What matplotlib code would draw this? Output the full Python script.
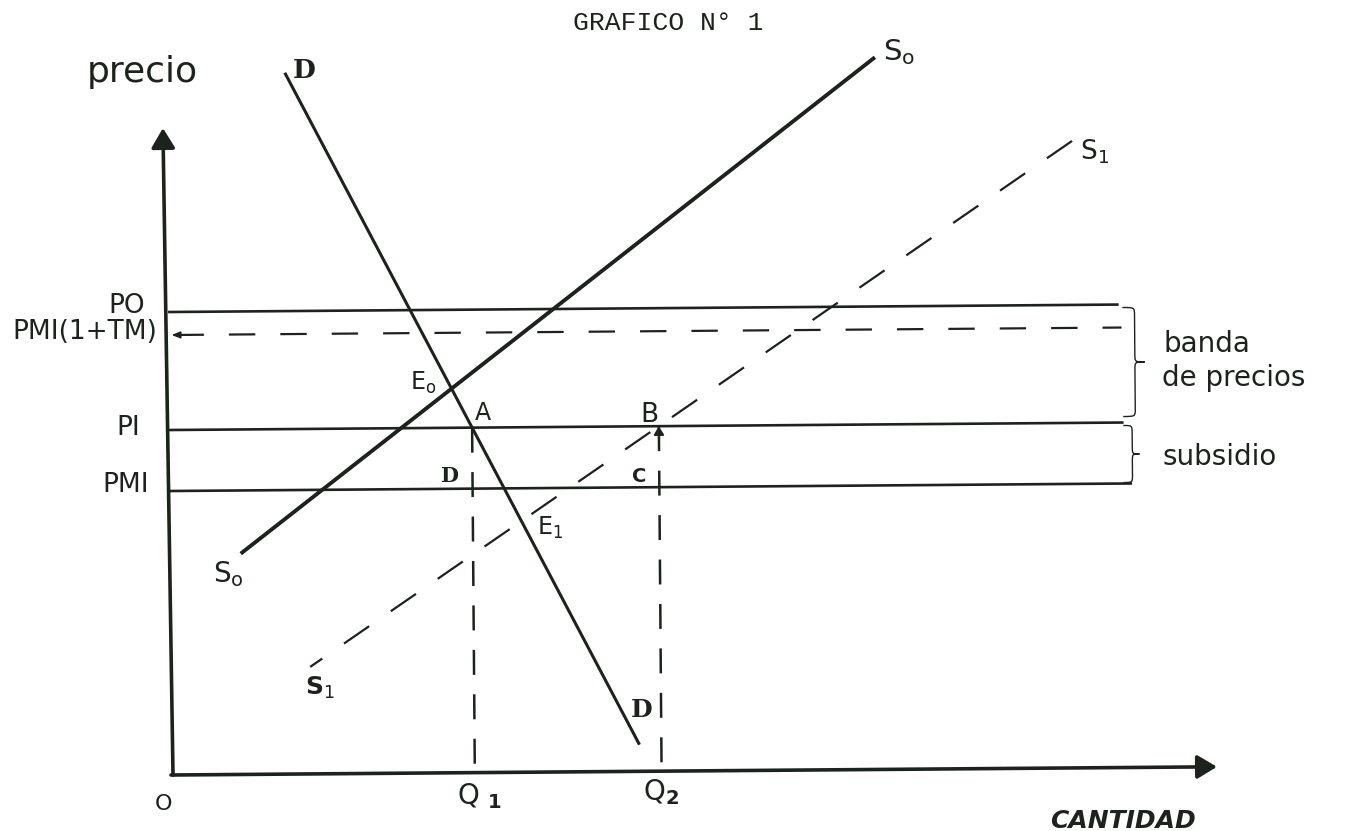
import numpy as np
import matplotlib.pyplot as plt
from matplotlib.path import Path
from matplotlib.patches import PathPatch
from matplotlib.transforms import Affine2D

plt.rcParams['font.family'] = 'DejaVu Sans'
plt.rcParams['mathtext.fontset'] = 'dejavusans'
plt.rcParams['lines.scale_dashes'] = False

TINTA = '#1c231c'

# niveles de precio (unidades del grafico, origen en O)
niveles = ['PO', 'PMI(1+TM)', 'PI', 'PMI']
precios = [463, 440, 345, 284]
fin_niveles = [948, 952, 952, 960]

# rectas: extremos en (cantidad, precio)
demanda_q = [118, 466]
demanda_p = [700, 28]
oferta0_q = [71, 706]
oferta0_p = [222, 711]
oferta1_q = [138, 904]
oferta1_p = [107, 627]

# largo de los ejes
eje_q = 1044
eje_p = 647


def cruce(qs, ps, p):
    # cantidad en la que la recta llega al precio p
    return qs[0] + (p - ps[0]) * (qs[1] - qs[0]) / (ps[1] - ps[0])


def llave(ax, q, p_abajo, p_arriba, ancho, tr):
    s = q + ancho * 0.55
    punta = q + ancho
    m = (p_abajo + p_arriba) / 2
    r = 8
    verts = [(q, p_arriba), (s, p_arriba), (s, p_arriba), (s, p_arriba - r),
             (s, m + r), (s, m), (s, m), (punta, m),
             (s, m), (s, m), (s, m - r),
             (s, p_abajo + r), (s, p_abajo), (s, p_abajo), (q, p_abajo)]
    C, L = Path.CURVE4, Path.LINETO
    codes = [Path.MOVETO, C, C, C, L, C, C, C, C, C, C, L, C, C, C]
    ax.add_patch(PathPatch(Path(verts, codes), fill=False, lw=1.0,
                           edgecolor=TINTA, transform=tr))


fig = plt.figure(figsize=(13.45, 8.31), dpi=100)
ax = fig.add_axes([0, 0, 1, 1])
ax.set_xlim(-173, 1172)
ax.set_ylim(-56, 775)
ax.axis('off')

# el dibujo original esta levemente girado
tr = Affine2D().rotate_deg(0.45) + ax.transData

flecha = dict(arrowstyle='-|>,head_length=0.75,head_width=0.45', lw=2.6,
              color=TINTA, mutation_scale=16, shrinkA=0, shrinkB=0)
# el eje vertical esta algo inclinado a la izquierda
ax.annotate('', xy=(-5, eje_p), xytext=(0, 0), xycoords=tr, textcoords=tr,
            arrowprops=flecha)
ax.annotate('', xy=(eje_q, 0), xytext=(-2, 0), xycoords=tr, textcoords=tr,
            arrowprops=flecha)

# rectas horizontales de precios
for nombre, p, fin in zip(niveles, precios, fin_niveles):
    if nombre == 'PMI(1+TM)':
        ax.plot([8, fin], [p, p], color=TINTA, lw=1.6, dashes=(19, 18),
                transform=tr)
        ax.annotate('', xy=(2, p), xytext=(22, p), xycoords=tr, textcoords=tr,
                    arrowprops=dict(arrowstyle='-|>,head_length=0.5,head_width=0.2',
                                    lw=1.2, color=TINTA, mutation_scale=10,
                                    shrinkA=0, shrinkB=0))
    else:
        ax.plot([0, fin], [p, p], color=TINTA, lw=1.9, transform=tr)

# demanda y ofertas
ax.plot(demanda_q, demanda_p, color=TINTA, lw=2.2, transform=tr)
ax.plot(oferta0_q, oferta0_p, color=TINTA, lw=2.8, transform=tr)
ax.plot(oferta1_q[::-1], oferta1_p[::-1], color=TINTA, lw=1.6,
        dashes=(22, 19), transform=tr)

# cantidades Q1 y Q2 al precio PI
pi = precios[2]
q1 = cruce(demanda_q, demanda_p, pi)
q2 = cruce(oferta1_q, oferta1_p, pi)
for q in (q1, q2):
    ax.plot([q, q], [pi, 0], color=TINTA, lw=1.8, dashes=(18, 14), transform=tr)
ax.annotate('', xy=(q2, pi), xytext=(q2, pi - 14), xycoords=tr, textcoords=tr,
            arrowprops=dict(arrowstyle='-|>,head_length=0.5,head_width=0.3',
                            lw=1.4, color=TINTA, mutation_scale=10,
                            shrinkA=0, shrinkB=0))

# llaves
llave(ax, 953, precios[2] + 6, precios[0] - 3, 22, tr)
llave(ax, 953, precios[3] + 1, precios[2] - 3, 16, tr)

# textos
kw = dict(color=TINTA, va='baseline')
ax.text(495, 745, 'GRAFICO N° 1', family='Liberation Mono', fontsize=19,
        ha='center', **kw)
ax.text(-86, 693, 'precio', fontsize=26, ha='left', **kw)
ax.text(131, 697, 'D', fontsize=19, fontweight='bold', family='DejaVu Serif',
        ha='center', **kw)
ax.text(710, 715, r'S$_\mathrm{o}$', fontsize=21, ha='left', **kw)
ax.text(907, 615, r'S$_1$', fontsize=19, ha='left', **kw)
ax.text(40, 193, r'S$_\mathrm{o}$', fontsize=20, ha='left', **kw)
ax.text(132, 80, r'S$_1$', fontsize=18, fontweight='bold', ha='left', **kw)
ax.text(469, 58, 'D', fontsize=18, fontweight='bold', family='DejaVu Serif',
        ha='center', **kw)

ax.text(-46, 462, 'PO', fontsize=19, ha='center', **kw)
ax.text(-88, 436, 'PMI(1+TM)', fontsize=19, ha='center', **kw)
ax.text(-45, 340, 'PI', fontsize=19, ha='center', **kw)
ax.text(-47, 283, 'PMI', fontsize=19, ha='center', **kw)

ax.text(237, 385, r'E$_\mathrm{o}$', fontsize=17, ha='left', **kw)
ax.text(310, 355, 'A', fontsize=17, ha='center', **kw)
ax.text(476, 353, 'B', fontsize=19, ha='center', **kw)
ax.text(276, 293, 'D', fontsize=15, fontweight='bold', family='DejaVu Serif',
        ha='center', **kw)
ax.text(466, 293, 'C', fontsize=14, fontweight='bold', ha='center', **kw)
ax.text(364, 240, r'E$_1$', fontsize=17, ha='left', **kw)

ax.text(-10, -35, 'O', fontsize=16, ha='center', **kw)
ax.text(284, -29, r'Q $_\mathbf{1}$', fontsize=20, ha='left', **kw)
ax.text(470, -25, r'Q$_\mathbf{2}$', fontsize=20, ha='left', **kw)
ax.text(950, -53, 'CANTIDAD', fontsize=18, fontweight='bold', style='italic',
        ha='center', **kw)

ax.text(990, 423, 'banda', fontsize=20, ha='left', **kw)
ax.text(989, 389, 'de precios', fontsize=20, ha='left', **kw)
ax.text(990, 310, 'subsidio', fontsize=20, ha='left', **kw)

fig.savefig('out.png', dpi=100, facecolor='white')
